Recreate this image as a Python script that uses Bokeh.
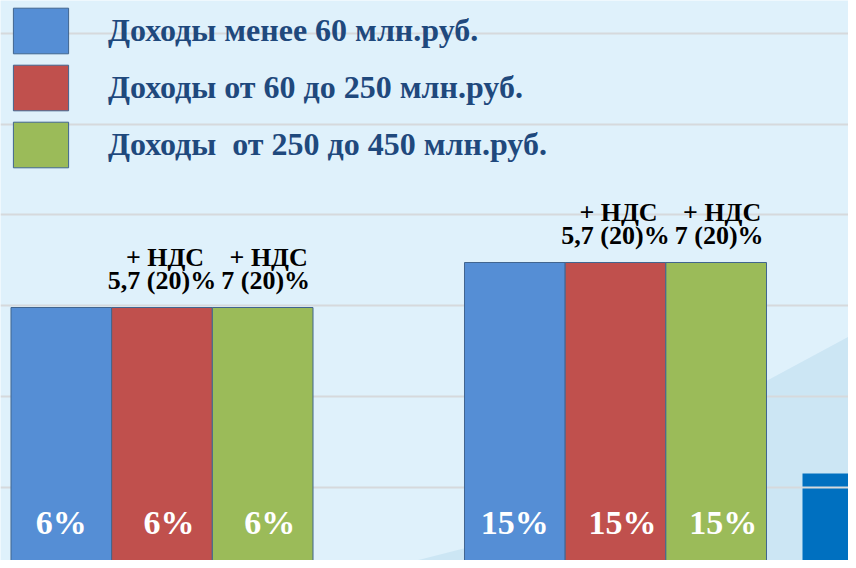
from bokeh.plotting import figure
from bokeh.models import Range1d, ColumnDataSource, FixedTicker, Legend, LegendItem
from bokeh.core.properties import value
from bokeh.embed import file_html
from bokeh.resources import INLINE

# ---------------- data ----------------
groups = ["УСН «Доходы»", "УСН «Доходы минус расходы»"]
series = ["Доходы менее 60 млн.руб.",
          "Доходы от 60 до 250 млн.руб.",
          "Доходы  от 250 до 450 млн.руб."]
rate_low = [6, 15]
rate_mid = [6, 15]
rate_high = [6, 15]
rate_labels = ["6%", "15%"]
vat_line1 = ["", "+ НДС", "+ НДС"]
vat_line2 = ["", "5,7 (20)%", "7 (20)%"]

# ---------------- styling / layout ----------------
bar_colors = ["#558ed5", "#c0504d", "#9bbb59"]
W, H = 848, 560
unit_px_x = 453.5
x_start = -161.5 / 453.5
px_per_y = 5.0
y_top = 67.4
x_end = x_start + W / unit_px_x
y_bottom = y_top - H / px_per_y
bar_base = -45.2
bar_width = 0.222
dodge = [-0.222, 0.0, 0.222]
grid_start, grid_step, grid_n = -29.9, 18.15, 6
FONT = value("Liberation Serif")


def px2x(px):
    return x_start + px / unit_px_x


def px2y(py):
    return y_top - py / px_per_y


p = figure(width=W, height=H, x_range=Range1d(x_start, x_end),
           y_range=Range1d(y_bottom, y_top), output_backend="svg",
           toolbar_location=None, min_border=0)
p.axis.visible = False
p.xgrid.visible = False
p.outline_line_color = None
p.background_fill_color = "#dff1fb"
p.border_fill_color = "#dff1fb"
p.ygrid.ticker = FixedTicker(ticks=[grid_start + k * grid_step for k in range(grid_n)])
p.ygrid.grid_line_color = "#d6d9dc"
p.ygrid.grid_line_width = 2

# background decoration of the slide
wave_px = [(375, 568), (420, 559), (467, 547), (520, 523), (580, 490), (640, 454),
           (700, 418), (763, 382), (856, 332), (856, 568)]
wave = p.patch([px2x(a) for a, b in wave_px], [px2y(b) for a, b in wave_px],
               fill_color="#cce6f4", line_color=None)
wave.level = "image"
block = p.quad(left=[px2x(802)], right=[x_end], top=[px2y(473)], bottom=[y_bottom],
               fill_color="#0070c0", line_color=None)
block.level = "image"

rates = [rate_low, rate_mid, rate_high]
renderers = []
gx = list(range(len(groups)))
lab_dx = [0, 7, 7]
vat_dx = [0, 0, 3]
for i, s in enumerate(series):
    xs = [g + dodge[i] for g in gx]
    src = ColumnDataSource(dict(x=xs, top=rates[i], bottom=[bar_base] * len(gx),
                                lab=rate_labels,
                                l1=[vat_line1[i]] * len(gx),
                                l2=[vat_line2[i]] * len(gx)))
    r = p.vbar(x="x", top="top", bottom="bottom", width=bar_width, source=src,
               fill_color=bar_colors[i], line_color="#41658f", line_width=1)
    renderers.append(r)
    p.text(x="x", y="bottom", text="lab", source=src, text_font=FONT,
           text_font_style="bold", text_font_size="34px", text_color="white",
           text_align="center", text_baseline="alphabetic",
           x_offset=lab_dx[i], y_offset=-41)
    p.text(x="x", y="top", text="l1", source=src, text_font=FONT,
           text_font_style="bold", text_font_size="26px", text_color="black",
           text_align="center", text_baseline="alphabetic",
           x_offset=3 + vat_dx[i], y_offset=-50)
    p.text(x="x", y="top", text="l2", source=src, text_font=FONT,
           text_font_style="bold", text_font_size="26px", text_color="black",
           text_align="center", text_baseline="alphabetic",
           x_offset=vat_dx[i], y_offset=-27)

legend = Legend(items=[LegendItem(label=s, renderers=[r])
                       for s, r in zip(series, renderers)],
                location=(6, 387), glyph_width=69, glyph_height=57, spacing=0,
                padding=0, margin=0, label_standoff=33,
                label_text_font="Liberation Serif", label_text_font_style="bold",
                label_text_font_size="32px", label_text_color="#1f497d",
                border_line_color=None, background_fill_alpha=0)
p.add_layout(legend)

open("out.html", "w").write(file_html(p, INLINE))
